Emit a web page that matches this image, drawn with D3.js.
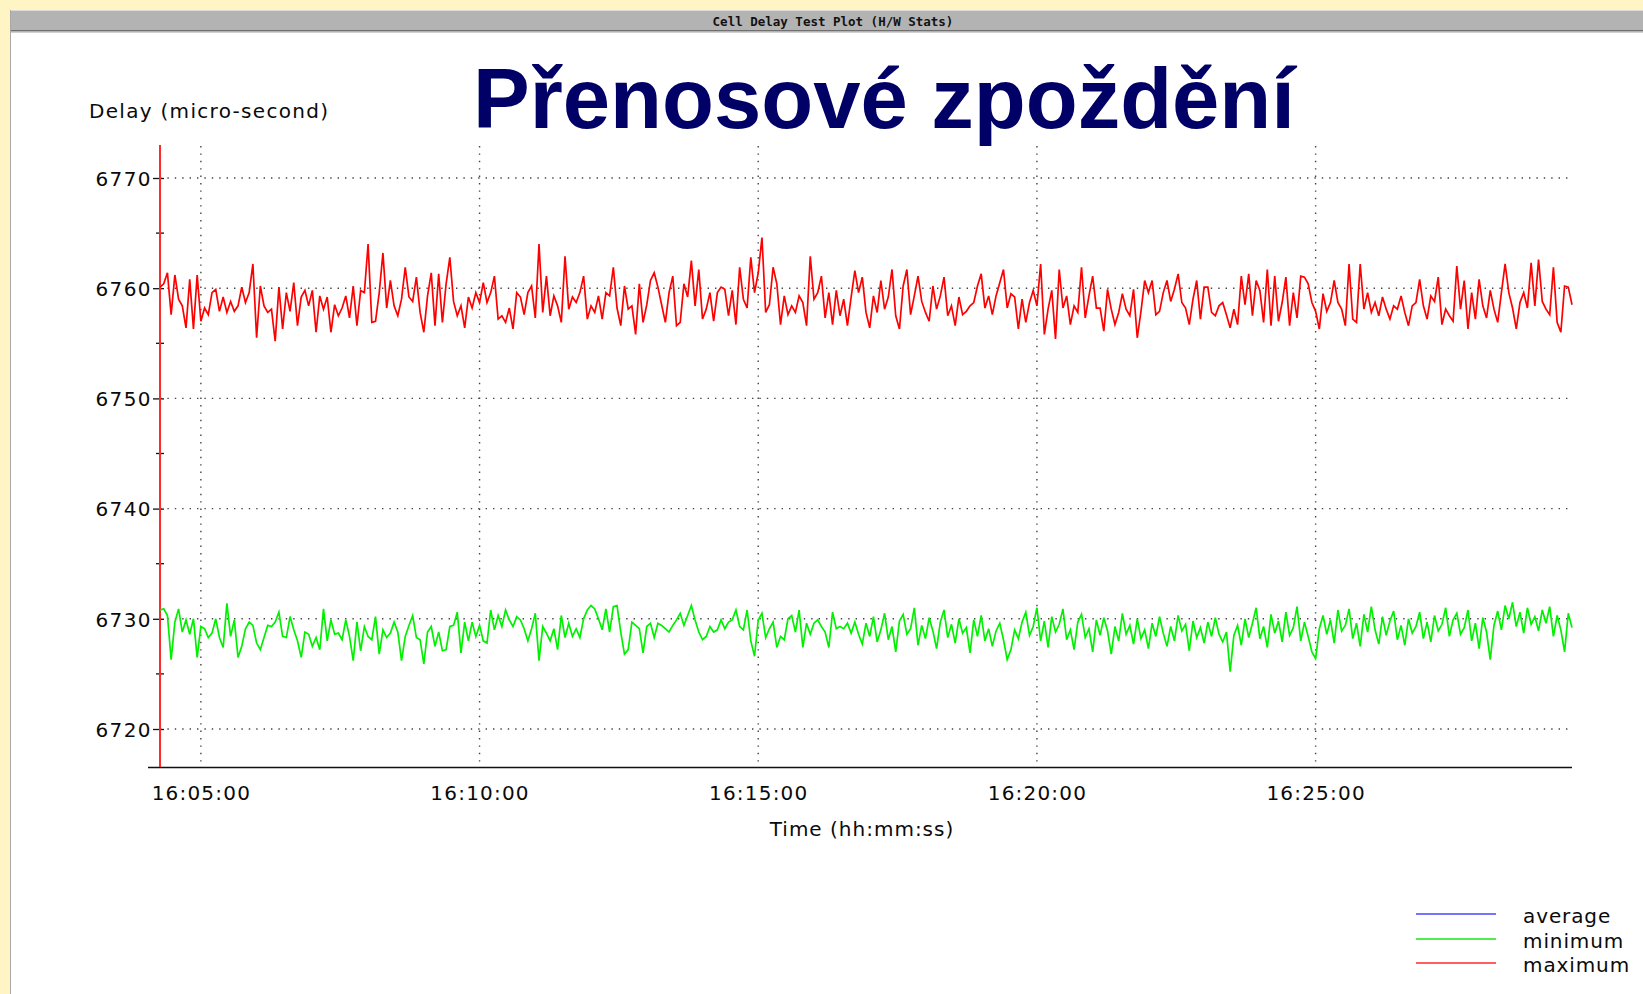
<!DOCTYPE html>
<html><head><meta charset="utf-8">
<script src="https://cdn.jsdelivr.net/npm/d3@7"></script>
<style>html,body{margin:0;padding:0;background:#fff4c4;} svg{display:block}</style>
</head><body><svg id="c" width="1643" height="994"></svg>
<script>
const windowTitle = "Cell Delay Test Plot (H/W Stats)";
const slideTitle = "Přenosové zpoždění";
const yAxisTitle = "Delay (micro-second)";
const xAxisTitle = "Time (hh:mm:ss)";
const startTime = "16:04:16";
const sampleStepSeconds = 4;
const yTicks = [6720, 6730, 6740, 6750, 6760, 6770];
const yMinorTicks = [6725, 6735, 6745, 6755, 6765];
const xTickLabels = ["16:05:00", "16:10:00", "16:15:00", "16:20:00", "16:25:00"];
const legendLabels = ["average", "minimum", "maximum"];
const legendColors = ["#4646ff", "#16e816", "#ff2a2a"];
const seriesColors = ["#3c3cff", "#00f000", "#ff0000"];
const averageValues = [];
const maximumValues = [
6760.1,6760.4,6761.4,6757.6,6761.2,6759.0,6758.4,6756.4,6760.8,6756.3,
6761.2,6757.0,6758.2,6757.6,6759.6,6759.9,6757.9,6759.2,6757.8,6758.8,
6757.9,6758.4,6760.1,6758.7,6759.6,6762.2,6755.5,6760.2,6758.4,6757.8,
6758.1,6755.2,6760.1,6756.3,6759.6,6757.9,6760.5,6756.6,6759.2,6759.8,
6758.4,6759.8,6756.0,6759.3,6758.1,6759.2,6756.0,6758.5,6757.5,6758.2,
6759.3,6757.3,6760.2,6756.6,6759.8,6759.6,6764.0,6756.9,6757.0,6759.6,
6763.2,6758.2,6760.7,6758.4,6757.5,6759.0,6761.9,6759.2,6758.8,6761.0,
6757.8,6756.0,6759.3,6761.4,6756.6,6761.3,6756.9,6760.4,6762.8,6758.8,
6757.5,6758.4,6756.4,6759.2,6758.2,6759.6,6758.7,6760.5,6758.7,6759.6,
6761.1,6757.2,6757.5,6756.9,6758.2,6756.3,6759.6,6759.2,6757.6,6759.6,
6760.2,6757.3,6764.0,6757.8,6761.1,6757.5,6759.3,6758.4,6756.9,6762.9,
6758.1,6759.2,6758.7,6759.6,6761.1,6757.2,6758.4,6757.8,6759.3,6757.2,
6759.6,6759.3,6761.9,6758.2,6756.6,6760.2,
6758.1,6758.4,6755.8,6760.4,6756.9,6758.5,6760.7,6761.4,6760.1,6758.5,
6756.9,6759.6,6761.1,6756.6,6756.9,6760.4,6759.2,6762.5,6758.4,6761.7,
6757.2,6758.1,6759.6,6757.0,6759.6,6760.1,6759.9,6757.5,6759.8,6756.7,
6761.9,6759.0,6758.2,6762.8,6759.6,6761.4,6764.6,6757.8,6758.5,6761.9,
6760.4,6756.7,6759.3,6757.6,6758.4,6757.8,6759.3,6758.7,6756.6,6762.9,
6759.0,6759.6,6761.1,6757.3,6759.6,6756.7,6759.8,6757.5,6759.0,6756.6,
6759.2,6761.6,6759.6,6761.0,6757.8,6756.4,6759.3,6757.8,6760.7,6758.1,
6759.2,6761.7,6757.5,6756.3,6760.2,6761.7,6757.6,6759.3,6761.1,6758.8,
6757.8,6757.0,6760.2,6758.1,6759.3,6761.0,6757.5,6758.4,6756.6,6759.2,
6757.6,6757.9,6758.4,6758.7,6760.2,6761.3,6758.2,6759.3,6757.6,6759.3,
6760.5,6761.7,6758.2,6759.5,6759.2,6756.3,6759.0,6756.9,6758.7,6759.8,
6758.4,6762.2,6755.8,6758.1,6759.8,6755.4,6761.7,6758.2,6759.3,6756.7,
6758.4,6757.8,6761.9,6757.3,6759.3,6761.1,6758.2,
6758.2,6756.1,6759.9,6758.1,6756.7,6757.8,6759.5,6758.1,6757.5,6759.9,
6755.5,6757.9,6760.7,6759.6,6760.7,6757.6,6757.9,6759.6,6760.7,6758.8,
6759.9,6761.3,6758.7,6758.2,6756.7,6759.0,6760.7,6757.2,6760.1,6760.1,
6757.8,6757.5,6758.4,6758.7,6757.6,6756.4,6758.1,6756.7,6761.1,6758.5,
6761.3,6757.5,6760.7,6759.8,6756.9,6761.7,6756.6,6761.1,6757.0,6758.7,
6761.0,6756.6,6759.6,6757.3,6761.1,6761.0,6760.4,6758.7,6757.9,6756.3,
6759.5,6757.9,6758.7,6760.7,6758.7,6758.1,6756.6,6762.2,6757.2,6756.9,
6762.2,6758.1,6759.6,6757.8,6758.7,6757.5,6759.2,6758.1,6757.2,6758.4,
6758.1,6759.3,6757.8,6756.6,6758.4,6758.7,6760.8,6758.4,6757.2,6759.3,
6758.8,6761.0,6756.7,6758.1,6757.5,6757.0,6762.0,6758.1,6760.7,6756.3,
6759.6,6757.2,6760.8,6758.4,6757.3,6759.8,6758.1,6756.9,6759.6,6762.2,
6759.6,6758.2,6756.3,6758.7,6759.6,6758.2,6762.3,6758.4,6762.6,6758.8,
6758.1,6757.6,6761.9,6756.9,6756.0,6760.2,6760.1,6758.5
];
const minimumValues = [
6730.8,6730.9,6730.3,6726.3,6729.7,6730.9,6728.8,6729.9,6728.6,6730.0,
6726.5,6729.3,6729.1,6728.3,6728.7,6730.0,6728.3,6727.4,6731.4,6728.4,
6729.9,6726.5,6727.5,6729.1,6729.7,6729.4,6727.8,6727.2,6728.3,6729.4,
6729.3,6729.7,6730.6,6728.4,6728.3,6730.2,6729.0,6728.0,6726.5,6728.8,
6728.6,6727.5,6728.3,6727.2,6730.9,6728.0,6729.9,6728.6,6728.7,6728.1,
6729.9,6728.4,6726.2,6729.7,6727.1,6729.3,6728.4,6728.1,6730.2,6726.8,
6729.0,6728.3,6728.7,6729.7,6728.8,6726.2,6728.4,6729.4,6730.3,6728.3,
6728.1,6725.9,6728.8,6729.3,6727.5,6728.8,6727.1,6727.2,6729.3,6729.4,
6730.6,6726.9,6729.7,6728.0,6729.7,6728.4,6729.4,6728.0,6727.8,6730.8,
6729.0,6730.3,6729.3,6730.8,6729.9,6729.3,6730.2,6729.9,6729.1,6728.0,
6729.1,6730.5,6726.2,6729.3,6728.7,6728.0,6729.1,6727.2,6730.3,6728.3,
6729.6,6728.4,6729.1,6728.3,6730.0,6730.8,6731.2,6730.9,6730.0,6729.0,
6730.9,6728.8,6731.1,6731.2,6728.8,6726.8,6727.2,6729.7,6729.4,6729.1,
6726.9,6729.3,6729.6,6728.3,6729.6,6729.4,6729.1,6728.8,6729.4,6729.9,
6730.5,6729.4,6730.3,6731.2,6729.9,6728.8,6728.1,6728.4,6729.3,6728.8,
6729.0,6729.9,6729.1,6729.7,6729.9,6730.8,6729.3,6729.0,6730.8,6728.0,
6726.6,6729.9,6730.5,6728.3,6729.1,6729.7,6727.4,6728.4,6728.1,6730.0,
6730.3,6728.8,6730.8,6727.4,6729.6,6728.6,6729.6,6729.9,6729.3,6728.8,
6727.4,6730.6,6729.1,6729.3,6729.1,6729.6,6728.7,6729.7,6728.6,6727.7,
6729.6,6728.4,6730.2,6727.9,6729.0,6730.5,6728.1,6729.3,6727.0,6729.8,
6730.4,6728.6,6729.1,6731.0,6727.6,6729.4,6728.2,6730.1,6728.9,6727.3,
6729.7,6730.8,6728.3,6729.5,6727.8,6730.0,6728.7,6729.2,6726.9,6729.9,
6728.4,6730.3,6728.0,6729.1,6727.5,6728.9,6729.6,6728.1,6726.3,6727.2,
6729.0,6728.2,6729.7,6730.6,6728.5,6729.3,6731.0,6728.0,6729.8,6727.4,
6730.2,6728.8,6729.5,6730.9,6728.1,6729.0,6727.2,6729.7,6730.4,6728.3,
6729.1,6727.0,6729.9,6728.5,6730.1,6728.9,6726.8,6729.3,6728.0,6730.5,
6728.6,6729.4,6727.7,6730.0,6728.2,6729.0,6727.3,6729.6,6728.4,6730.2,
6728.7,6727.5,6729.3,6728.0,6730.3,6728.9,6729.5,6727.1,6729.8,6728.3,
6729.2,6727.8,6729.7,6728.4,6730.1,6728.6,6727.9,6728.8,6725.2,6728.5,
6729.4,6727.6,6730.0,6728.3,6729.6,6731.0,6728.2,6729.3,6727.4,6730.4,
6728.7,6729.8,6727.9,6730.6,6728.5,6729.2,6731.1,6728.0,6729.7,6728.4,
6727.0,6726.4,6729.1,6730.3,6728.6,6729.9,6727.8,6730.8,6728.9,6729.4,
6730.9,6728.2,6729.6,6727.5,6730.4,6728.8,6731.1,6729.0,6727.7,6730.2,
6728.5,6729.8,6730.7,6728.1,6729.4,6727.6,6730.0,6728.7,6729.3,6730.6,
6728.2,6729.7,6727.9,6730.3,6728.9,6729.5,6731.0,6728.4,6729.9,6730.5,
6728.6,6729.2,6730.8,6728.0,6729.6,6727.3,6730.1,6728.8,6726.3,6729.4,
6730.7,6729.0,6731.2,6730.0,6731.5,6729.3,6730.6,6728.7,6731.0,6729.5,
6730.2,6728.9,6730.8,6729.6,6731.1,6728.4,6730.3,6729.0,6727.0,6730.5,6729.2
];

const W = 1643, H = 994;
const svg = d3.select("#c");
const parse = d3.timeParse("%H:%M:%S");
const t0 = parse(startTime);
const nPts = maximumValues.length;
const tEnd = new Date(t0.getTime() + (nPts - 1) * sampleStepSeconds * 1000);
const timeAt = i => new Date(t0.getTime() + i * sampleStepSeconds * 1000);

const x = d3.scaleTime().domain([t0, tEnd]).range([160, 1572]);
const y = d3.scaleLinear().domain([6720, 6770]).range([729, 178]);

// window frame
svg.append("rect").attr("width", W).attr("height", H).attr("fill", "#fff4c4");
svg.append("rect").attr("x", 11).attr("y", 32).attr("width", W - 11).attr("height", H - 32).attr("fill", "#ffffff");
svg.append("rect").attr("x", 10).attr("y", 10).attr("width", W - 10).attr("height", 22).attr("fill", "#b3b3b3");
svg.append("line").attr("x1", 10).attr("x2", W).attr("y1", 10.5).attr("y2", 10.5).attr("stroke", "#dcdcdc");
svg.append("line").attr("x1", 10).attr("x2", W).attr("y1", 30.5).attr("y2", 30.5).attr("stroke", "#6f6f6f");
svg.append("line").attr("x1", 10).attr("x2", W).attr("y1", 32.5).attr("y2", 32.5).attr("stroke", "#d0d0d0");
svg.append("line").attr("x1", 10.5).attr("x2", 10.5).attr("y1", 10).attr("y2", H).attr("stroke", "#a8a8a8");
svg.append("text").attr("x", 833).attr("y", 25.5).attr("text-anchor", "middle")
  .attr("font-family", "DejaVu Sans Mono").attr("font-weight", "bold").attr("font-size", 12.5)
  .attr("fill", "#111").text(windowTitle);

// title
svg.append("text").attr("x", 884).attr("y", 128).attr("text-anchor", "middle")
  .attr("font-family", "Liberation Sans, Arial").attr("font-weight", "bold").attr("font-size", 85)
  .attr("fill", "#000066").text(slideTitle);

const txt = (sel) => sel.attr("font-family", "DejaVu Sans").attr("font-size", 20).attr("fill", "#0a0a0a");

// grid
const grid = svg.append("g");
const dotStyle = sel => sel.attr("stroke", "#444").attr("stroke-width", 1.4).attr("stroke-dasharray", "1.4 6");
grid.selectAll(".hg").data(yTicks).join("line")
  .attr("x1", 160).attr("x2", 1572).attr("y1", d => y(d)).attr("y2", d => y(d)).call(dotStyle);
grid.selectAll(".vg").data(xTickLabels).join("line")
  .attr("x1", d => x(parse(d))).attr("x2", d => x(parse(d))).attr("y1", 146).attr("y2", 767).call(dotStyle);

// y axis
const yAxis = svg.append("g").attr("transform", "translate(164,0)")
  .call(d3.axisLeft(y).tickValues(yTicks).tickSize(11).tickPadding(1).tickFormat(d3.format("d")));
yAxis.select(".domain").remove();
yAxis.selectAll(".tick line").attr("stroke", "#111").attr("stroke-width", 1.3);
yAxis.selectAll(".tick text").call(txt).attr("letter-spacing", 1.4).attr("dy", "0.36em");
svg.append("g").selectAll("line").data(yMinorTicks).join("line")
  .attr("x1", 156).attr("x2", 164).attr("y1", d => y(d)).attr("y2", d => y(d))
  .attr("stroke", "#111").attr("stroke-width", 1.3);

// x axis
const xAxis = svg.append("g").attr("transform", "translate(0,767)")
  .call(d3.axisBottom(x).tickValues(xTickLabels.map(parse)).tickSize(0).tickPadding(19)
    .tickFormat(d3.timeFormat("%H:%M:%S")));
xAxis.select(".domain").remove();
xAxis.selectAll(".tick text").call(txt).attr("letter-spacing", 1.2);
svg.append("line").attr("x1", 148).attr("x2", 1572).attr("y1", 767.5).attr("y2", 767.5)
  .attr("stroke", "#111").attr("stroke-width", 1.5);
svg.append("line").attr("x1", 160).attr("x2", 160).attr("y1", 145).attr("y2", 767)
  .attr("stroke", "#ff2a2a").attr("stroke-width", 2);

// axis titles
svg.append("text").attr("x", 89).attr("y", 118).call(txt).attr("letter-spacing", 1.3).text(yAxisTitle);
svg.append("text").attr("x", 862).attr("y", 836).attr("text-anchor", "middle").call(txt).attr("letter-spacing", 1.0).text(xAxisTitle);

// series
const line = d3.line().x((d, i) => x(timeAt(i))).y(d => y(d));
const series = [averageValues, minimumValues, maximumValues];
svg.append("g").selectAll("path").data(series).join("path")
  .attr("d", d => d.length ? line(d) : null)
  .attr("fill", "none")
  .attr("stroke", (d, i) => seriesColors[i])
  .attr("stroke-width", 1.7)
  .attr("stroke-linejoin", "miter");

// legend
const lg = svg.append("g");
const legY = [914, 939, 963];
lg.selectAll("line").data(legendLabels).join("line")
  .attr("x1", 1416).attr("x2", 1496).attr("y1", (d, i) => legY[i]).attr("y2", (d, i) => legY[i])
  .attr("stroke", (d, i) => legendColors[i]).attr("stroke-width", 1.6);
lg.selectAll("text").data(legendLabels).join("text")
  .attr("x", 1523).attr("y", (d, i) => legY[i] + 9).call(txt).attr("letter-spacing", 0.9).text(d => d);
</script>
</body></html>
